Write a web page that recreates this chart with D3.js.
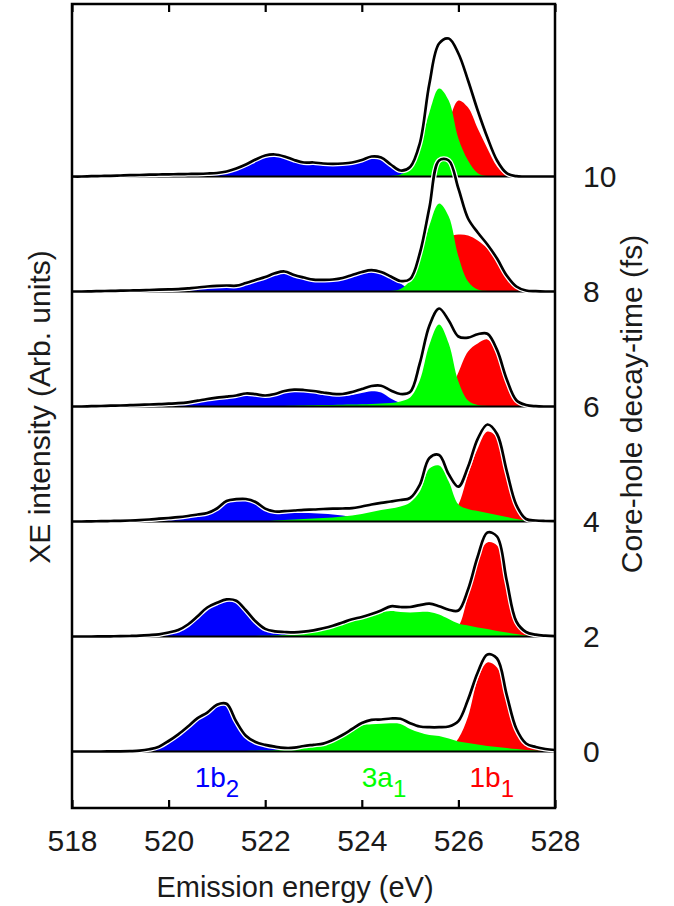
<!DOCTYPE html>
<html>
<head>
<meta charset="utf-8">
<script src="https://cdn.jsdelivr.net/npm/d3@7"></script>
<style>
  html, body { margin: 0; padding: 0; background: #fff; }
  svg { display: block; }
</style>
</head>
<body>
<svg id="chart" width="674" height="906"></svg>
<script>
// Emission energy grid (eV), 0.2 eV steps from 518 to 528
const energy = d3.range(0, 51).map(i => +(518 + i * 0.2).toFixed(1));

// Core-hole decay times (fs) of the stacked spectra, top to bottom
const decayTimes = [10, 8, 6, 4, 2, 0];

const xTicks = [518, 520, 522, 524, 526, 528];
const timeTicks = [0, 2, 4, 6, 8, 10];

// Orbital components
const orbitalNames = ["1b", "3a", "1b"];
const orbitalSubs = ["2", "1", "1"];
const orbitalEnergies = [521.0, 524.46, 526.69];

// ---- 10 fs ----
const sum_t10 = [0,0,0.3,0.5,0.7,1,1.3,1.5,1.8,2, 2.2,2.3,2.5,2.7,3,3.5,5,8,12,17, 21,22,20,16.5,14,14,13,12.7,13,14, 16.5,20,19,12,6,9.5,33,93,133,138, 123,96,66,39,16,3.3,0.3,0,0,0, 0];
const b2_t10  = [0,0,0,0,0.2,0.5,0.8,1,1.2,1.4, 1.6,1.7,1.9,2.1,2.4,2.9,4.2,7,11,16, 20,21,19,15.5,13,13,12,11.7,12,13, 15.5,19,18,11,4.5,1,0,0,0,0, 0,0,0,0,0,0,0,0,0,0, 0];
const a1_t10  = [0,0,0,0,0,0,0,0,0,0, 0,0,0,0,0,0,0,0,0,0, 0,0,0,0,0,0,0,0,0,0, 0,0,0,0.5,2,8.5,30,64,88,76, 38,16,3.3,0.5,0,0,0,0,0,0, 0];
const b1_t10  = [0,0,0,0,0,0,0,0,0,0, 0,0,0,0,0,0,0,0,0,0, 0,0,0,0,0,0,0,0,0,0, 0,0,0,0,0,1,4,12,30,55, 76,69,48,28,10,1,0,0,0,0, 0];

// ---- 8 fs ----
const sum_t8 = [0,0,0.2,0.4,0.6,0.8,1,1.2,1.5,1.8, 2.1,2.4,3.2,4,5,5.7,6,5.8,8.5,11.5, 14.5,18.2,20,16.5,14,11.8,11.7,12,13.5,16.5, 19.5,21.3,19.5,15,10.5,12.5,38,84,131,131, 103,73,59,47,33,16,5,1,0.3,0, 0];
const b2_t8  = [0,0,0,0.2,0.3,0.5,0.7,0.9,1.1,1.4, 1.6,1.9,2.6,3.3,4.2,4.8,5,4.8,7.5,10.5, 13.5,17,19,15.5,13,10.8,10.7,11,12.5,15.5, 18.5,20.3,18.5,13.5,8,2,0.3,0,0,0, 0,0,0,0,0,0,0,0,0,0, 0];
const a1_t8  = [0,0,0,0,0,0,0,0,0,0, 0,0,0,0,0,0,0,0,0,0, 0,0,0,0,0,0,0,0,0,0, 0,0,0,0.5,2.5,11,32,66,88,75, 35,10,2,0.5,0,0,0,0,0,0, 0];
const b1_t8  = [0,0,0,0,0,0,0,0,0,0, 0,0,0,0,0,0,0,0,0,0, 0,0,0,0,0,0,0,0,0,0, 0,0,0,0,0,1,5,10,30,54, 57,56,51,43,30,14,3.5,0.5,0,0, 0];

// ---- 6 fs ----
const sum_t6 = [0,0,0.3,0.5,0.8,1,1.3,1.6,2,2.3, 2.8,3.3,4.2,5.8,7.5,8.8,9.8,11,13,12.3, 11,12.5,15.5,16.8,16.5,15.5,14,12.7,12.5,14.5, 17.5,20.5,20.8,16,12.5,14.5,43,81,98,86, 70,68.8,72.3,72.8,56.6,27.3,6.3,1.5,0.3,0, 0];
const b2_t6  = [0,0,0,0,0.2,0.5,0.8,1,1.4,1.7, 2.2,2.7,3.6,5,6.8,8,9,10.2,12.2,11.5, 10,11.5,14.3,15.5,15,14,12.5,11,10.5,11.5, 13.5,15.3,14,8,3.5,1,0.3,0,0,0, 0,0,0,0,0,0,0,0,0,0, 0];
const a1_t6  = [0,0,0,0,0,0,0,0,0,0, 0,0,0,0,0,0,0,0,0,0, 0.3,0.5,0.6,0.8,1,1.2,1.4,1.6,1.8,2, 2.3,2.6,3,3.5,5,9,26,62,82,63, 25,6,1.5,0.5,0,0,0,0,0,0, 0];
const b1_t6  = [0,0,0,0,0,0,0,0,0,0, 0,0,0,0,0,0,0,0,0,0, 0,0,0,0,0,0,0,0,0,0, 0,0,0,0,0,0,0,0.5,3,12, 34,55,63,67,52,27,9,1.5,0.3,0, 0];

// ---- 4 fs ----
const sum_t4 = [0,0,0.2,0.3,0.5,0.7,1,1.4,2,2.8, 3.5,4.3,5.5,7,8.5,13,20.5,22.3,22.5,19.5, 12.9,10,10.3,11,11.7,12,12.5,12.8,13,13.3, 15,17,18.7,20,21.5,23.5,36.7,63.5,66.5,47.2, 34.8,54.7,82.7,97,87.5,50.7,16.5,2.5,1,0.5, 0.3];
const b2_t4  = [0,0,0,0,0,0.3,0.6,1,1.5,2.2, 2.8,3.5,4.7,6.2,7.5,12,19.5,21.3,21.5,18, 12,8,8.3,8.5,8.5,8.3,7.8,7,6,4.5, 2.5,1,0.3,0,0,0,0,0,0,0, 0,0,0,0,0,0,0,0,0,0, 0];
const a1_t4  = [0,0,0,0,0,0,0,0,0,0, 0,0,0,0,0,0,0,0,0,0, 0,1,1.5,2,2.5,3,3.5,4,5,6, 7.5,9.5,11.5,13,15,19,30,53,56,40, 17,12.5,10.5,8.5,6.5,4.5,2.5,1,0.3,0, 0];
const b1_t4  = [0,0,0,0,0,0,0,0,0,0, 0,0,0,0,0,0,0,0,0,0, 0,0,0,0,0,0,0,0,0,0, 0,0,0,0,0,0,0,0,0,4, 17,47,73,90,84,51,15,3,0.5,0, 0];

// ---- 2 fs ----
const sum_t2 = [0,0,0,0.1,0.2,0.3,0.5,0.8,1.4,2.2, 4,6.5,12,20.3,29,33.7,37.1,35.8,26.3,15.2, 7.6,5.2,4.5,4.1,4.8,6.2,8.2,10.7,14,17.3, 19.5,22.5,26,30.2,29.5,29.5,31.4,32.8,30.3,26.8, 26,47,80,104,100,56,15,4.5,1.8,0.8, 0.3];
const b2_t2  = [0,0,0,0,0,0.2,0.4,0.6,1,1.7, 3.2,5.8,11,19.3,28,32.7,35.8,34.5,25.3,14.2, 6.5,4,3,2,1,0.5,0,0,0,0, 0,0,0,0,0,0,0,0,0,0, 0,0,0,0,0,0,0,0,0,0, 0];
const a1_t2  = [0,0,0,0,0,0,0,0,0,0, 0,0,0,0,0,0,0,0,0.3,0.5, 0.7,1,1.5,2.2,3,4.5,6.5,9,12.5,15.5, 18.5,21.5,24,25.5,24.5,24,24.5,24.5,22,17.5, 13,11,9,7.5,5.5,4,2.5,1,0.3,0, 0];
const b1_t2  = [0,0,0,0,0,0,0,0,0,0, 0,0,0,0,0,0,0,0,0,0, 0,0,0,0,0,0,0,0,0,0, 0,0,0,0,0,0,0,0,0,2, 10,41,78,94,91,53,15,4,1.2,0.3, 0];

// ---- 0 fs ----
const sum_t0 = [0,0,0,0,0.1,0.2,0.4,0.8,2.2,4.8, 10.5,17.2,25,33.3,38.9,46.8,47.7,30,15.7,9.4, 6.6,4.8,3.6,3.8,5.5,6.7,7.9,11.5,16.5,22.5, 28.5,31.7,32,33,32.8,28.3,25,24.3,24.3,25, 30.4,52,79,97,93,56.7,22.7,8,4.5,2.5, 1.5];
const b2_t0  = [0,0,0,0,0,0,0,0.4,1.5,4, 9.5,16.2,24,32.3,37.9,45.8,46.7,29,14.7,8.4, 5,3,1.5,0.7,0.3,0,0,0,0,0, 0,0,0,0,0,0,0,0,0,0, 0,0,0,0,0,0,0,0,0,0, 0];
const a1_t0  = [0,0,0,0,0,0,0,0,0.5,0.5, 0.5,0.5,0.5,0.5,0.5,0.5,0.5,0.5,0.6,0.7, 0.9,1.2,1.7,2.3,3.5,5,6.5,10,15,20.5, 26,27.3,27.7,28.2,27.5,22.5,19,16.5,15.5,13, 10,8.5,7,5.5,4.5,3.5,2.5,1.5,1,0.5, 0.2];
const b1_t0  = [0,0,0,0,0,0,0,0,0,0, 0,0,0,0,0,0,0,0,0,0, 0,0,0,0,0,0,0,0,0,0, 0,0,0,0,0,0,0,0,0,3, 13,35,72,89,84,52,19,7,3,1.2, 0.5];

const sums = [sum_t10, sum_t8, sum_t6, sum_t4, sum_t2, sum_t0];
const b2s  = [b2_t10, b2_t8, b2_t6, b2_t4, b2_t2, b2_t0];
const a1s  = [a1_t10, a1_t8, a1_t6, a1_t4, a1_t2, a1_t0];
const b1s  = [b1_t10, b1_t8, b1_t6, b1_t4, b1_t2, b1_t0];

// Intensity counts spanning one unit (fs) of the decay-time offset axis
const countsPerFs = 57.5;

const colors = { b2: "#0000ff", a1: "#00ff00", b1: "#ff0000" };
const FONT = "'Liberation Sans', Arial, Helvetica, sans-serif";
const TEXT = "#1a1a1a";

const svg = d3.select("#chart");
const frame = { left: 72, right: 555, top: 4, bottom: 808 };

const x = d3.scaleLinear().domain([518, 528]).range([frame.left, frame.right]);
const y = d3.scaleLinear().domain([-1, 13]).range([809, 4]);

svg.append("defs").append("clipPath").attr("id", "frame-clip")
  .append("rect")
  .attr("x", frame.left).attr("y", frame.top)
  .attr("width", frame.right - frame.left).attr("height", frame.bottom - frame.top);

const plot = svg.append("g").attr("clip-path", "url(#frame-clip)");
const curve = d3.curveCatmullRom.alpha(0.5);

decayTimes.forEach((t, p) => {
  const g = plot.append("g").attr("class", "spectrum");
  const base = y(t);
  const yv = v => y(t + v / countsPerFs);

  const areaGen = d3.area()
    .x((d, i) => x(energy[i]))
    .y0(base)
    .y1(d => yv(d))
    .curve(curve);

  // 1b2 and 1b1 first, 3a1 drawn over them
  g.append("path").attr("d", areaGen(b2s[p])).attr("fill", colors.b2);
  g.append("path").attr("d", areaGen(b1s[p])).attr("fill", colors.b1);
  g.append("path").attr("d", areaGen(a1s[p])).attr("fill", colors.a1);

  g.append("line")
    .attr("x1", x(518)).attr("x2", x(528))
    .attr("y1", base).attr("y2", base)
    .attr("stroke", "#000").attr("stroke-width", 2.2);

  const lineGen = d3.line()
    .x((d, i) => x(energy[i]))
    .y(d => yv(d))
    .curve(curve);

  g.append("path").attr("d", lineGen(sums[p]))
    .attr("fill", "none").attr("stroke", "#fff")
    .attr("stroke-width", 5.2).attr("stroke-linejoin", "round");
  g.append("path").attr("d", lineGen(sums[p]))
    .attr("fill", "none").attr("stroke", "#000")
    .attr("stroke-width", 2.7).attr("stroke-linejoin", "round");
});

// Bottom energy axis (ticks pointing inward)
const xAxisBottom = svg.append("g")
  .attr("transform", `translate(0,${frame.bottom})`)
  .call(d3.axisBottom(x).tickValues(xTicks).tickSizeInner(-8).tickSizeOuter(0)
        .tickPadding(22).tickFormat(d3.format("d")));

// Top energy axis, ticks only
const xAxisTop = svg.append("g")
  .attr("transform", `translate(0,${frame.top})`)
  .call(d3.axisTop(x).tickValues(xTicks).tickSizeInner(-8).tickSizeOuter(0).tickFormat(""));

// Right decay-time axis
const tAxis = svg.append("g")
  .attr("transform", `translate(${frame.right},0)`)
  .call(d3.axisRight(y).tickValues(timeTicks).tickSizeInner(0).tickSizeOuter(0)
        .tickPadding(28).tickFormat(d3.format("d")));

[xAxisBottom, xAxisTop, tAxis].forEach(a => {
  a.select(".domain").remove();
  a.selectAll(".tick line").attr("stroke", "#000").attr("stroke-width", 2.2);
  a.selectAll(".tick text")
    .attr("font-family", FONT).attr("font-size", 30).attr("fill", TEXT);
});

// Frame
svg.append("rect")
  .attr("x", frame.left).attr("y", frame.top)
  .attr("width", frame.right - frame.left).attr("height", frame.bottom - frame.top)
  .attr("fill", "none").attr("stroke", "#000").attr("stroke-width", 2.5);

// Axis titles
svg.append("text")
  .attr("x", 295).attr("y", 897)
  .attr("text-anchor", "middle")
  .attr("font-family", FONT).attr("font-size", 29).attr("fill", TEXT)
  .text("Emission energy (eV)");

svg.append("text")
  .attr("transform", "translate(50,407) rotate(-90)")
  .attr("text-anchor", "middle")
  .attr("font-family", FONT).attr("font-size", 30).attr("fill", TEXT)
  .text("XE intensity (Arb. units)");

svg.append("text")
  .attr("transform", "translate(642,404) rotate(-90)")
  .attr("text-anchor", "middle")
  .attr("font-family", FONT).attr("font-size", 30).attr("fill", TEXT)
  .text("Core-hole decay-time (fs)");

// Orbital labels
const labelColors = [colors.b2, colors.a1, colors.b1];
orbitalNames.forEach((name, i) => {
  const txt = svg.append("text")
    .attr("x", x(orbitalEnergies[i]))
    .attr("y", 787)
    .attr("text-anchor", "middle")
    .attr("font-family", FONT).attr("font-size", 28)
    .attr("fill", labelColors[i]);
  txt.append("tspan").text(name);
  txt.append("tspan").attr("dy", 9.5).attr("font-size", 24).text(orbitalSubs[i]);
});
</script>
</body>
</html>
